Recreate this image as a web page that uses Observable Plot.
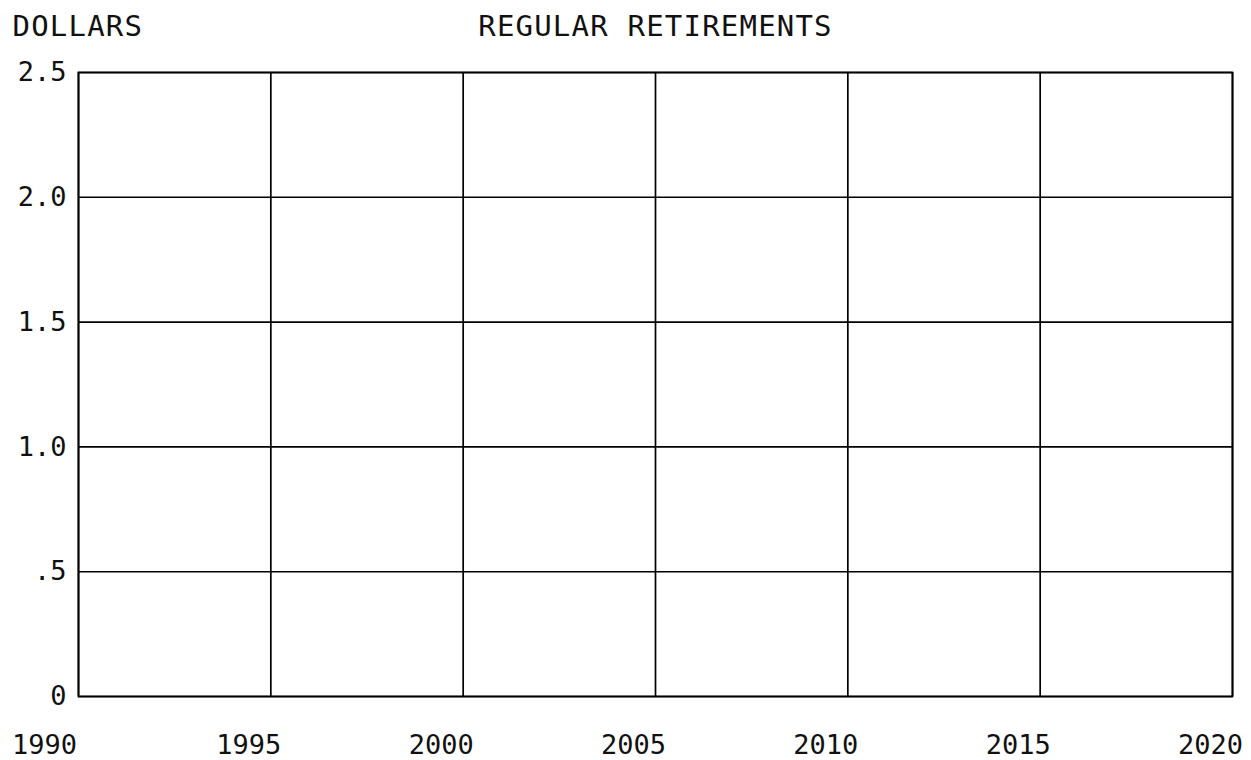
<!DOCTYPE html>
<html>
<head>
<meta charset="utf-8">
<script src="https://cdn.jsdelivr.net/npm/d3@7"></script>
<script src="https://cdn.jsdelivr.net/npm/@observablehq/plot@0.6"></script>
<style>
  html, body { margin: 0; padding: 0; background: #fff; }
  #chart svg { display: block; }
  #chart g[aria-label="text"] text { letter-spacing: 1.2px; }
  #chart text { fill: #111; }
</style>
</head>
<body>
<div id="chart"></div>
<script>
// Chart content
const title = "REGULAR RETIREMENTS";
const yAxisTitle = "DOLLARS";
const xTicks = [1990, 1995, 2000, 2005, 2010, 2015, 2020];
const xTickLabels = ["1990", "1995", "2000", "2005", "2010", "2015", "2020"];
const yTicks = [0, 0.5, 1.0, 1.5, 2.0, 2.5];
const yTickLabels = ["0", ".5", "1.0", "1.5", "2.0", "2.5"];
const xDomain = [1990, 2020];
const yDomain = [0, 2.5];
// The reference chart contains no plotted series (empty grid).
const series = [];

const font = "'DejaVu Sans Mono', monospace";
const fs = 27;

const chart = Plot.plot({
  width: 1251,
  height: 760,
  marginLeft: 78,
  marginRight: 19,
  marginTop: 72,
  marginBottom: 64,
  style: { fontFamily: font, fontSize: fs + "px", color: "#000", background: "#fff" },
  x: { domain: xDomain, ticks: xTicks },
  y: { domain: yDomain, ticks: yTicks },
  marks: [
    Plot.gridX(xTicks, { stroke: "#000", strokeOpacity: 1, strokeWidth: 1.7 }),
    Plot.gridY(yTicks, { stroke: "#000", strokeOpacity: 1, strokeWidth: 1.6 }),
    Plot.frame({ stroke: "#000", strokeWidth: 1.8 }),
    Plot.line(series, { x: "year", y: "value", stroke: "#000" }),
    Plot.axisY(yTicks, {
      tickSize: 0, tickPadding: 12, fontSize: fs,
      tickFormat: (d) => yTickLabels[yTicks.indexOf(d)], label: null
    }),
    Plot.axisX(xTicks.slice(0, 1), {
      tickSize: 0, tickPadding: 38, dx: -34, fontSize: fs,
      tickFormat: (d) => xTickLabels[xTicks.indexOf(d)], label: null
    }),
    Plot.axisX(xTicks.slice(1), {
      tickSize: 0, tickPadding: 38, dx: -22, fontSize: fs,
      tickFormat: (d) => xTickLabels[xTicks.indexOf(d)], label: null
    }),
    Plot.text([yAxisTitle], {
      text: (d) => d, frameAnchor: "top-left", textAnchor: "start",
      lineAnchor: "bottom", dx: -66, dy: -37, fontSize: 29
    }),
    Plot.text([title], {
      text: (d) => d, frameAnchor: "top", textAnchor: "middle",
      lineAnchor: "bottom", dy: -37, fontSize: 29
    })
  ]
});
document.getElementById("chart").appendChild(chart);
</script>
</body>
</html>
